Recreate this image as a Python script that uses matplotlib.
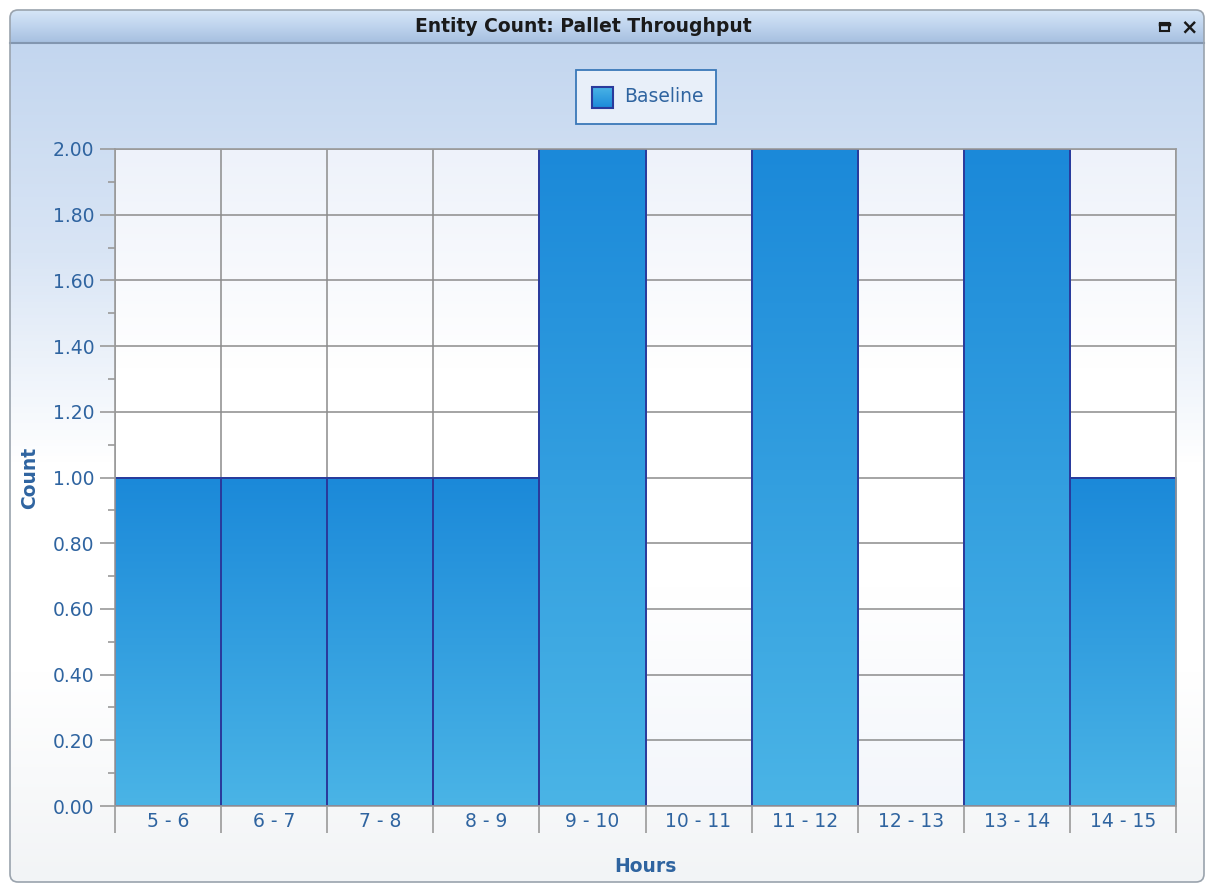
import matplotlib.pyplot as plt
import numpy as np
from matplotlib.colors import LinearSegmentedColormap
from matplotlib.patches import FancyBboxPatch, Rectangle

hours = ['5 - 6', '6 - 7', '7 - 8', '8 - 9', '9 - 10', '10 - 11',
         '11 - 12', '12 - 13', '13 - 14', '14 - 15']
counts = [1, 1, 1, 1, 2, 0, 2, 0, 2, 1]
series_name = 'Baseline'

W, H = 1206, 884
label_col = '#2f64a0'
# row 0 of the image is drawn at the top
bar_cmap = LinearSegmentedColormap.from_list('bar', ['#1b89d9', '#4ab4e6'])

fig = plt.figure(figsize=(W / 100, H / 100), dpi=100)
fig.patch.set_facecolor('white')

# window frame / background
bg = fig.add_axes([0, 0, 1, 1], zorder=-5)
bg.set_xlim(0, W)
bg.set_ylim(H, 0)
bg.axis('off')

frame = FancyBboxPatch((10, 10), 1194, 872, boxstyle='round,pad=0,rounding_size=8',
                       facecolor='none', edgecolor='#9aa3ad', linewidth=1.2, zorder=5)
bg.add_patch(frame)

grad = np.linspace(0, 1, 256).reshape(-1, 1)
body_cmap = LinearSegmentedColormap.from_list('body', ['#c3d6ef', '#d9e5f5', '#ffffff', '#ffffff', '#f2f4f6'])
im = bg.imshow(grad, cmap=body_cmap, extent=(10, 1204, 882, 43), aspect='auto', zorder=1)
im.set_clip_path(frame)

title_cmap = LinearSegmentedColormap.from_list('tb', ['#d6e6f7', '#bfd4ee', '#a7c0e0'])
tim = bg.imshow(grad, cmap=title_cmap, extent=(10, 1204, 42, 10), aspect='auto', zorder=2)
tim.set_clip_path(frame)
bg.plot([10, 1204], [42.5, 42.5], color='#8296b0', linewidth=1.5, zorder=3)

bg.text(583, 26, 'Entity Count: Pallet Throughput', ha='center', va='center',
        fontsize=13.5, fontweight='bold', color='#1a1a1a', zorder=6)
bg.add_patch(Rectangle((1160, 23), 9, 8, facecolor='none', edgecolor='#1a1a1a', linewidth=1.5, zorder=6))
bg.plot([1160, 1169], [23.5, 23.5], color='#1a1a1a', linewidth=2.5, zorder=6)
bg.text(1189, 27, '×', ha='center', va='center', fontsize=15, fontweight='bold', color='#1a1a1a', zorder=6)

# legend box
bg.add_patch(Rectangle((576, 70), 140, 54, facecolor='#e8eff9', edgecolor='#3a78b8', linewidth=1.3, zorder=4))
leg_sw = Rectangle((592, 87), 21, 21, facecolor='none', edgecolor='#2a3a9c', linewidth=1.5, zorder=6)
bg.add_patch(leg_sw)
sw = bg.imshow(grad[::-1], cmap=bar_cmap, extent=(592, 613, 108, 87), aspect='auto', zorder=5)
sw.set_clip_path(leg_sw)
bg.text(624, 97, series_name, ha='left', va='center', fontsize=13.5, color=label_col, zorder=6)

# plot area
left, right, top, bottom = 115, 1176, 149, 806
ax = fig.add_axes([left / W, 1 - bottom / H, (right - left) / W, (bottom - top) / H])
n = len(hours)
ax.set_xlim(0, n)
ax.set_ylim(0, 2)

area_cmap = LinearSegmentedColormap.from_list('area', ['#eef2fa', '#ffffff', '#ffffff', '#f3f6fb'])
ax.imshow(grad, cmap=area_cmap, extent=(0, n, 0, 2), aspect='auto', zorder=0)

for i, c in enumerate(counts):
    if c > 0:
        ax.imshow(grad, cmap=bar_cmap, extent=(i, i + 1, 0, c), aspect='auto', zorder=3)
        ax.add_patch(Rectangle((i, 0), 1, c, facecolor='none', edgecolor='#2a3a9c',
                               linewidth=1.4, zorder=4))

ax.set_yticks(np.arange(0, 2.01, 0.2))
ax.set_yticks(np.arange(0.1, 2.0, 0.2), minor=True)
ax.set_yticklabels(['%.2f' % v for v in np.arange(0, 2.01, 0.2)])
ax.set_xticks(np.arange(0, n + 1))
ax.set_xticklabels([])
ax.set_xticks(np.arange(n) + 0.5, minor=True)
ax.set_xticklabels(hours, minor=True)
ax.tick_params(axis='x', which='major', length=19.5, color='#9a9a9a', width=1.2)
ax.tick_params(axis='x', which='minor', length=0, pad=4, labelsize=13.5, labelcolor=label_col)
ax.tick_params(axis='y', which='major', length=11, color='#9a9a9a', width=1.2, pad=4,
               labelsize=13.5, labelcolor=label_col)
ax.tick_params(axis='y', which='minor', length=5, color='#9a9a9a', width=1.2)
ax.grid(True, which='major', color='#8c8c8c', linewidth=1.1, zorder=1)
ax.set_axisbelow(True)
for s in ax.spines.values():
    s.set_color('#9a9a9a')
    s.set_linewidth(1.2)
    s.set_zorder(5)

ax.set_xlabel('Hours', fontsize=13.5, fontweight='bold', color=label_col, labelpad=14)
ax.set_ylabel('Count', fontsize=13.5, fontweight='bold', color=label_col, labelpad=10)

fig.savefig('out.png', dpi=100)
